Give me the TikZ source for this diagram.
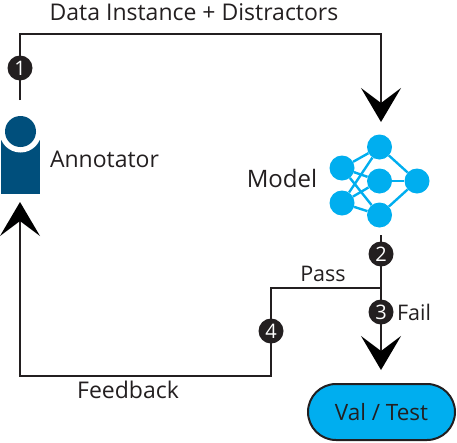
\documentclass[tikz,border=0pt]{standalone}
\usepackage{fontspec}
\setmainfont{Open Sans}
\usepackage{xcolor}
\usetikzlibrary{arrows.meta, shapes.misc}

\definecolor{inkblack}{HTML}{231F20}
\definecolor{personblue}{HTML}{004F7C}
\definecolor{modelcyan}{HTML}{00AEEF}

\tikzset{
    flowline/.style={draw=inkblack, line width=2.4pt},
    flowarrow/.style={flowline, -{Stealth[length=34pt, width=40pt, inset=15pt, black]}},
    stepdot/.style={circle, fill=inkblack, text=white, inner sep=0pt, minimum size=25pt, font=\fontsize{20}{20}\selectfont},
    neuron/.style={circle, fill=modelcyan, inner sep=0pt, minimum size=25pt},
    synapse/.style={draw=modelcyan, line width=2.4pt},
    caption/.style={text=inkblack, inner sep=0pt, font=\fontsize{23}{23}\selectfont},
    smallcaption/.style={caption, font=\fontsize{21.5}{21.5}\selectfont}
}

\begin{document}
\begin{tikzpicture}[x=1pt, y=-1pt]

    \useasboundingbox (0,0) rectangle (457,442);

    % =================================================================
    % 1. ANNOTATOR
    % =================================================================
    \node[fill=personblue, inner sep=0pt, minimum width=39pt, minimum height=54pt] (annotator) at (20.5,166.5) {};
    \fill[white] (20.5,131.5) circle (21pt);
    \node[circle, fill=personblue, inner sep=0pt, minimum size=31pt] (head) at (20.5,131.5) {};
    \node[caption] (annotatorlabel) at (104.5,159) {Annotator};

    % =================================================================
    % 2. MODEL
    % =================================================================
    \node[neuron] (n1) at (342,168) {};
    \node[neuron] (n2) at (342,203) {};
    \node[neuron] (n3) at (379.5,147) {};
    \node[neuron] (n4) at (379.5,181) {};
    \node[neuron] (n5) at (379.5,215) {};
    \node[neuron] (n6) at (417,181) {};
    \foreach \a in {n1, n2} {
        \foreach \b in {n3, n4, n5} {
            \draw[synapse] (\a) -- (\b);
        }
    }
    \foreach \b in {n3, n4, n5} {
        \draw[synapse] (\b) -- (n6);
    }
    \node[caption, font=\fontsize{24}{24}\selectfont] (modellabel) at (282,178) {Model};

    % =================================================================
    % 3. VAL / TEST
    % =================================================================
    \node[rounded rectangle, draw=inkblack, line width=2pt, fill=modelcyan, text=inkblack, inner sep=0pt,
          minimum width=147pt, minimum height=56pt, font=\fontsize{22.5}{22.5}\selectfont] (valtest) at (381.5,412) {Val / Test};

    % =================================================================
    % 4. CONNECTORS
    % =================================================================
    \coordinate (start) at (20,100);
    \coordinate (topright) at (381,34);
    \coordinate (modelin) at (381,122);
    \coordinate (modelout) at (381,235);
    \coordinate (split) at (381,288);
    \coordinate (failtip) at (381,370);
    \coordinate (passcorner) at (271,288);
    \coordinate (backcorner) at (271,376);
    \coordinate (annotatorin) at (20,202);

    \draw[flowarrow] (start) |- (topright) -- (modelin);
    \draw[flowarrow] (modelout) -- (failtip);
    \draw[flowarrow] (split) -- (passcorner) -- (backcorner) -| (annotatorin);

    % =================================================================
    % 5. NUMBERED STEPS
    % =================================================================
    \node[stepdot] (one) at (20,68) {1};
    \node[stepdot] (two) at (381,254) {2};
    \node[stepdot] (three) at (381,312) {3};
    \node[stepdot] (four) at (271,331) {4};

    % =================================================================
    % 6. LABELS
    % =================================================================
    \node[caption] (datalabel) at (194,12) {Data Instance + Distractors};
    \node[smallcaption] (passlabel) at (323,274) {Pass};
    \node[smallcaption] (faillabel) at (414,312) {Fail};
    \node[caption] (feedbacklabel) at (128,390) {Feedback};

\end{tikzpicture}
\end{document}
